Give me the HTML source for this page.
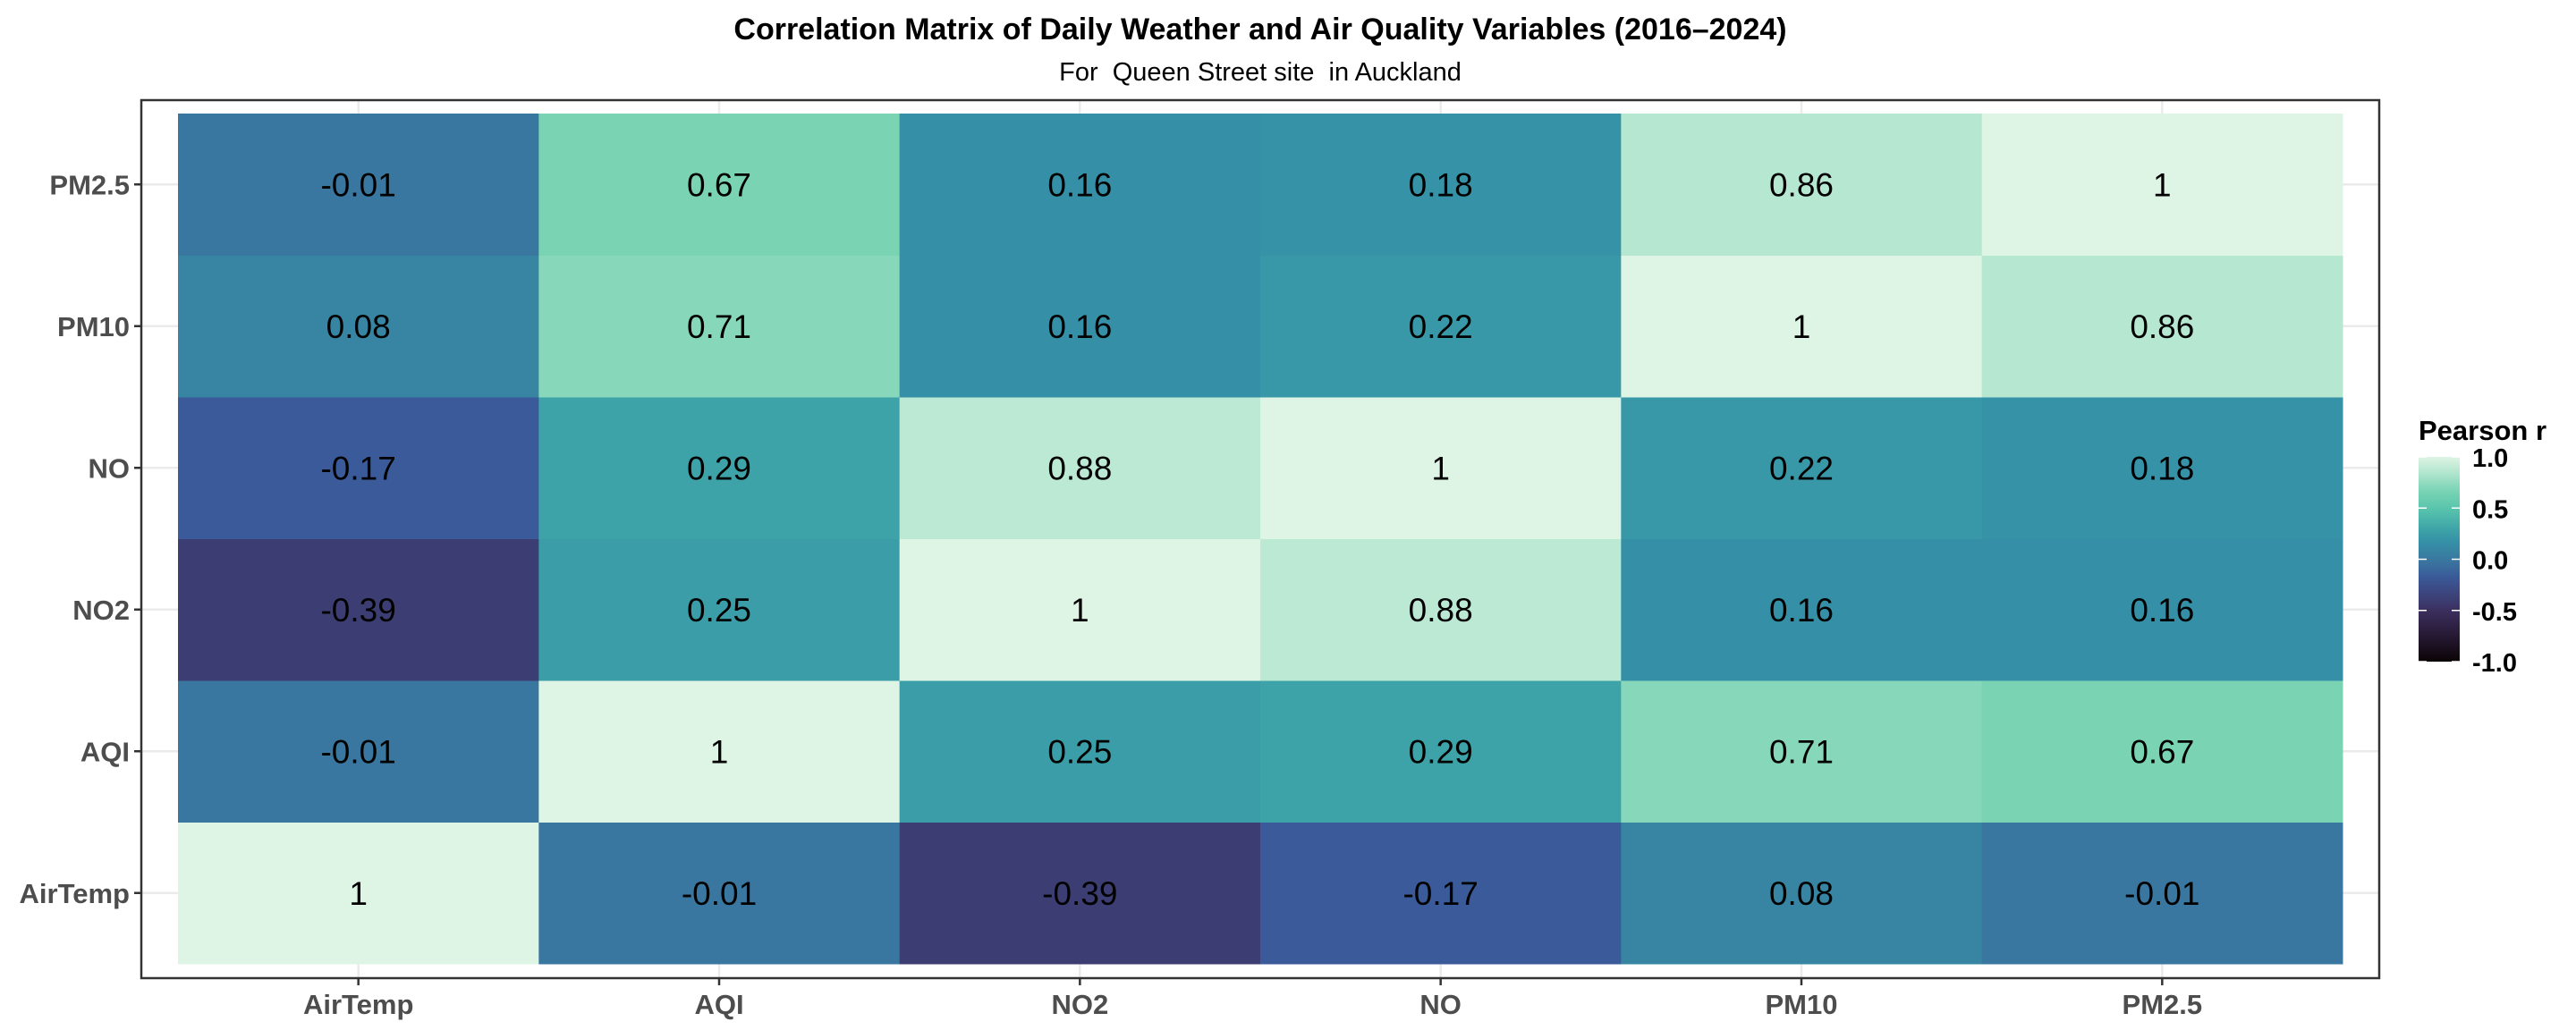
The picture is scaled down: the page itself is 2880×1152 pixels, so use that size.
<!DOCTYPE html>
<html><head><meta charset="utf-8"><style>
body{margin:0;background:#fff;}
svg{display:block;font-family:"Liberation Sans",Arial,sans-serif;}
</style></head><body>
<svg id="chart" width="2880" height="1152" viewBox="0 0 2880 1152">
<text x="1409" y="44" text-anchor="middle" font-size="34" font-weight="bold" fill="#000">Correlation Matrix of Daily Weather and Air Quality Variables (2016–2024)</text>
<text x="1409" y="90" text-anchor="middle" font-size="29" fill="#000" xml:space="preserve">For  Queen Street site  in Auckland</text>
<g id="grid"></g>
<g id="cells"></g>
<rect x="158" y="112" width="2502" height="982" fill="none" stroke="#333" stroke-width="2.5"/>
<g id="axes"></g>
<g id="legend"></g>
</svg>
<script>
const vars = ["AirTemp","AQI","NO2","NO","PM10","PM2.5"];
const row_AirTemp = [1, -0.01, -0.39, -0.17, 0.08, -0.01];
const row_AQI = [-0.01, 1, 0.25, 0.29, 0.71, 0.67];
const row_NO2 = [-0.39, 0.25, 1, 0.88, 0.16, 0.16];
const row_NO = [-0.17, 0.29, 0.88, 1, 0.22, 0.18];
const row_PM10 = [0.08, 0.71, 0.16, 0.22, 1, 0.86];
const row_PM25 = [-0.01, 0.67, 0.16, 0.18, 0.86, 1];
const legendTicks = [1.0, 0.5, 0.0, -0.5, -1.0];
const matrix = [row_AirTemp,row_AQI,row_NO2,row_NO,row_PM10,row_PM25];

const NS="http://www.w3.org/2000/svg";
function mk(tag,attrs,parent){const e=document.createElementNS(NS,tag);for(const k in attrs)e.setAttribute(k,attrs[k]);parent.appendChild(e);return e;}
const x0=199,x1=2619,yTop=127,yBot=1078;
const cw=(x1-x0)/vars.length, ch=(yBot-yTop)/vars.length;
function xPos(i){return x0+i*cw;}
function yPos(j){return yBot-(j+1)*ch;}
const stops=[[-1,"#0b0405"],[-0.7,"#2a1d3c"],[-0.5,"#3b2f5e"],[-0.39,"#3c3e73"],[-0.17,"#3a5a99"],[-0.01,"#3a77a0"],[0.16,"#358fa6"],[0.29,"#3ea3a8"],[0.5,"#5ac5ad"],[0.67,"#7ad4b4"],[0.86,"#b6e7d1"],[1,"#def4e4"]];
function hex(h){return [1,3,5].map(i=>parseInt(h.substr(i,2),16));}
function color(v){
  for(let i=0;i<stops.length-1;i++){const [a,ca]=stops[i],[b,cb]=stops[i+1];
    if(v<=b){const t=(v-a)/(b-a),A=hex(ca),B=hex(cb);return "rgb("+A.map((c,k)=>Math.round(c+(B[k]-c)*t)).join(",")+")";}}
  return stops[stops.length-1][1];
}
const grid=document.getElementById('grid'),cells=document.getElementById('cells'),axes=document.getElementById('axes'),legend=document.getElementById('legend');
vars.forEach((v,i)=>{
  const gx=mk('line',{x1:xPos(i)+cw/2,x2:xPos(i)+cw/2,y1:112,y2:1094,stroke:"#ebebeb","stroke-width":2.5},grid);
  
  
  const gy=mk('line',{x1:158,x2:2660,y1:yPos(i)+ch/2,y2:yPos(i)+ch/2,stroke:"#ebebeb","stroke-width":2.5},grid);
  
  
});
matrix.forEach((row,j)=>{row.forEach((val,i)=>{
  const r=mk('rect',{x:xPos(i),y:yPos(j),width:cw+0.5,height:ch+0.5,fill:color(val)},cells);
  
  
  const t=mk('text',{x:xPos(i)+cw/2,y:yPos(j)+ch/2+13,"text-anchor":"middle","font-size":37,fill:"#000"},cells);
  t.textContent=String(val);
  
  
});});
vars.forEach((v,i)=>{
  const cx=xPos(i)+cw/2;
  const tk=mk('line',{x1:cx,x2:cx,y1:1094,y2:1102,stroke:"#333","stroke-width":2.5},axes);
  
  
  const tl=mk('text',{x:cx,y:1134,"text-anchor":"middle","font-size":31,"font-weight":"bold",fill:"#4d4d4d"},axes);
  tl.textContent=v;
  
  
  const cy=yPos(i)+ch/2;
  const yk=mk('line',{x1:150,x2:158,y1:cy,y2:cy,stroke:"#333","stroke-width":2.5},axes);
  
  
  const yl=mk('text',{x:145,y:cy+11,"text-anchor":"end","font-size":31,"font-weight":"bold",fill:"#4d4d4d"},axes);
  yl.textContent=v;
  
  
});
const lt=mk('text',{x:2704,y:492,"font-size":31,"font-weight":"bold",fill:"#000"},legend);
lt.textContent="Pearson r";


const defs=mk('defs',{},legend);
const lg=mk('linearGradient',{id:"lg",x1:0,y1:1,x2:0,y2:0},defs);
for(let k=0;k<=40;k++){const v=-1+k/20;mk('stop',{offset:(k/40),"stop-color":color(v)},lg);}
const lb0=511,lb1=740;
function ly(v){return lb1-(v+1)/2*(lb1-lb0);}
const bar=mk('rect',{x:2704,y:lb0,width:46,height:lb1-lb0,fill:"url(#lg)"},legend);


legendTicks.forEach(v=>{
  const y=ly(v);
  [[2704,2713],[2741,2750]].forEach(([a,b])=>{const l=mk('line',{x1:a,x2:b,y1:y,y2:y,stroke:"#fff","stroke-width":1.5},legend);
    
    });
  const t=mk('text',{x:2764,y:y+11,"font-size":29,"font-weight":"bold",fill:"#000"},legend);
  t.textContent=v.toFixed(1);
  
  
});
</script>
</body></html>
